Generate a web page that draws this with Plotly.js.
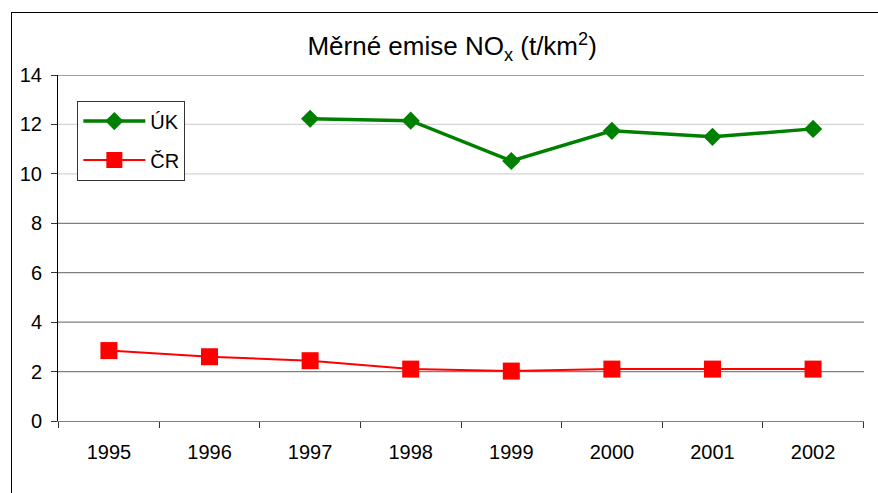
<!DOCTYPE html>
<html>
<head>
<meta charset="utf-8">
<script src="https://cdn.plot.ly/plotly-3.0.1.min.js"></script>
<style>
html,body{margin:0;padding:0;background:#fff;overflow:hidden;}
#frame{position:absolute;left:11px;top:12px;width:900px;height:520px;border:1.5px solid #000;}
#chart{position:absolute;left:0;top:0;width:878px;height:493px;}
</style>
</head>
<body>
<div id="frame"></div>
<div id="chart"></div>
<script>
const years = ['1995','1996','1997','1998','1999','2000','2001','2002'];
const ukValues = [null, null, 12.23, 12.15, 10.52, 11.74, 11.5, 11.82];
const crValues = [2.85, 2.6, 2.44, 2.1, 2.02, 2.1, 2.1, 2.1];
const yTicks = [0, 2, 4, 6, 8, 10, 12, 14];
const lightGrid = [10, 12];

const traces = [
  {x: years, y: ukValues, name: 'ÚK', legendgroup: 'uk', type: 'scatter', mode: 'lines+markers',
   line: {color: '#008000', width: 3.5}, marker: {symbol: 'diamond', size: 14, color: '#008000'},
   connectgaps: false},
  {x: years, y: crValues, name: 'ČR', legendgroup: 'cr', type: 'scatter', mode: 'lines+markers',
   line: {color: '#FF0000', width: 2}, marker: {symbol: 'square', size: 17, color: '#FF0000'}}
];

const shapes = yTicks.filter(v => v > 0).map(v => ({
  type: 'line', xref: 'paper', yref: 'y', x0: 0, x1: 1, y0: v, y1: v, layer: 'below',
  line: {color: lightGrid.includes(v) ? '#d4d4d4' : '#808080', width: 1.3}
}));

const layout = {
  width: 878, height: 493,
  margin: {l: 58, r: 14, t: 75, b: 72},
  paper_bgcolor: 'rgba(0,0,0,0)', plot_bgcolor: 'rgba(0,0,0,0)',
  font: {family: 'Liberation Sans, Arial, sans-serif', size: 20, color: '#000'},
  title: {text: 'Měrné emise NO<sub>x</sub> (t/km<sup>2</sup>)', font: {size: 26, color: '#000'},
          xref: 'paper', x: 0.489, xanchor: 'center', yref: 'container', y: 0.906, yanchor: 'middle'},
  showlegend: true,
  legend: {x: 0.024, y: 0.926, xanchor: 'left', yanchor: 'top', bgcolor: '#fff',
           traceorder: 'grouped',
           bordercolor: '#333', borderwidth: 1, font: {size: 20}, tracegroupgap: 10, itemwidth: 62},
  xaxis: {type: 'category', categoryorder: 'array', categoryarray: years,
          showgrid: false, showline: true, linecolor: '#808080', linewidth: 1.3,
          ticks: 'outside', tickson: 'boundaries', ticklen: 6, tickcolor: '#333',
          ticklabelstandoff: 13, zeroline: false, fixedrange: true},
  yaxis: {range: [0, 14], tickvals: yTicks, showgrid: false, zeroline: false,
          showline: true, linecolor: '#000', linewidth: 1,
          ticks: 'outside', ticklen: 6, tickcolor: '#333', ticklabelstandoff: 5, fixedrange: true},
  shapes: shapes
};

Plotly.newPlot('chart', traces, layout, {displayModeBar: false, staticPlot: true});
</script>
</body>
</html>
